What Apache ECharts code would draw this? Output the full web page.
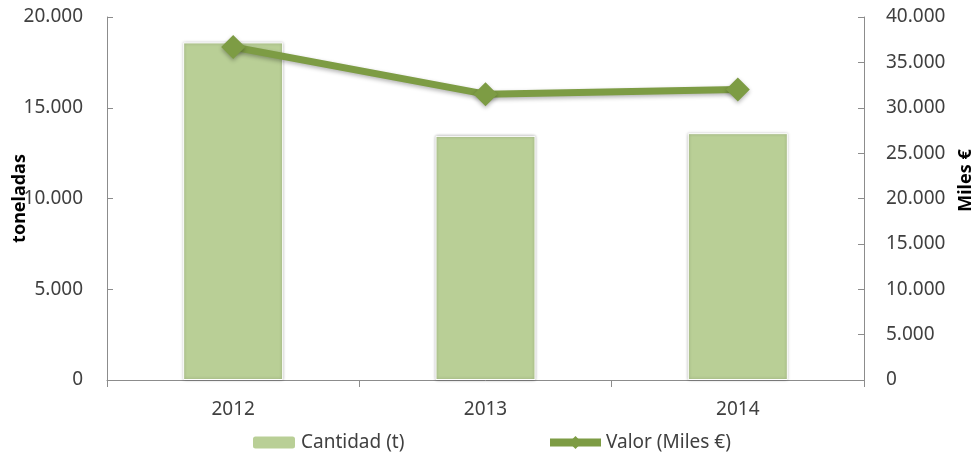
<!DOCTYPE html>
<html>
<head>
<meta charset="utf-8">
<script src="https://cdn.jsdelivr.net/npm/echarts@6/dist/echarts.min.js"></script>
<style>
  html, body { margin: 0; padding: 0; background: #fff; }
  #main { width: 973px; height: 459px; }
</style>
</head>
<body>
<div id="main"></div>
<script>
// datos
var years = ['2012', '2013', '2014']
var cantidad = [18600, 13450, 13600] // toneladas
var valor = [36700, 31500, 32000] // miles de euros

var leftMax = 20000
var leftStep = 5000
var rightMax = 40000
var rightStep = 5000

var fontName = '"Noto Sans", "Open Sans", sans-serif'
var barColor = '#b9cf96'
var lineColor = '#7d9c44'
var axisColor = '#8c8c8c'
var textColor = '#404040'

// 18600 -> 18.600
function fmt(v) {
  return String(v).replace(/\B(?=(\d{3})+(?!\d))/g, '.')
}

var chart = echarts.init(document.getElementById('main'))

var option = {
  animation: false,
  textStyle: { fontFamily: fontName },
  grid: {
    left: 107,
    right: 109,
    top: 17,
    bottom: 79,
    containLabel: false,
    outerBoundsMode: 'none'
  },
  legend: [
    {
      data: ['Cantidad (t)'],
      left: 246,
      top: 428,
      itemWidth: 44,
      itemHeight: 14,
      itemGap: 4,
      textStyle: { fontSize: 19, color: textColor, fontFamily: fontName }
    },
    {
      data: ['Valor (Miles €)'],
      left: 541,
      top: 428,
      itemWidth: 51,
      itemHeight: 16,
      itemGap: 4,
      lineStyle: { width: 8 },
      textStyle: { fontSize: 19, color: textColor, fontFamily: fontName }
    }
  ],
  xAxis: [
    {
      type: 'category',
      data: years,
      axisLine: { lineStyle: { color: axisColor, width: 1 } },
      axisTick: { show: true, length: 7, lineStyle: { color: axisColor } },
      axisLabel: { color: textColor, fontSize: 19, margin: 20 },
      splitLine: { show: false }
    }
  ],
  yAxis: [
    {
      type: 'value',
      min: 0,
      max: leftMax,
      interval: leftStep,
      name: 'toneladas',
      nameLocation: 'middle',
      nameRotate: 90,
      nameGap: 78,
      nameMoveOverlap: false,
      nameTextStyle: { fontSize: 18, fontWeight: 'bold', color: '#000' },
      axisLine: { show: true, lineStyle: { color: axisColor } },
      axisTick: { show: true, inside: true, length: 6, lineStyle: { color: axisColor } },
      axisLabel: { color: textColor, fontSize: 19, margin: 24, formatter: fmt },
      splitLine: { show: false }
    },
    {
      type: 'value',
      min: 0,
      max: rightMax,
      interval: rightStep,
      name: 'Miles €',
      nameLocation: 'middle',
      nameRotate: 90,
      nameGap: 93,
      nameMoveOverlap: false,
      nameTextStyle: {
        fontSize: 18,
        fontWeight: 'bold',
        color: '#000',
        padding: [0, 0, 0, 36]
      },
      axisLine: { show: true, lineStyle: { color: axisColor } },
      axisTick: { show: true, inside: true, length: 6, lineStyle: { color: axisColor } },
      axisLabel: { color: textColor, fontSize: 19, margin: 22, formatter: fmt },
      splitLine: { show: false }
    }
  ],
  series: [
    {
      name: 'Cantidad (t)',
      type: 'bar',
      yAxisIndex: 0,
      barWidth: 100,
      data: cantidad,
      itemStyle: {
        color: barColor,
        borderColor: '#ffffff',
        borderWidth: 1,
        shadowBlur: 3,
        shadowColor: 'rgba(0, 0, 0, 0.3)'
      }
    },
    {
      name: 'Valor (Miles €)',
      type: 'line',
      yAxisIndex: 1,
      data: valor,
      symbol: 'diamond',
      symbolSize: 24,
      lineStyle: {
        color: lineColor,
        width: 7,
        shadowBlur: 4,
        shadowOffsetY: 2,
        shadowColor: 'rgba(0, 0, 0, 0.3)'
      },
      itemStyle: {
        color: lineColor,
        shadowBlur: 4,
        shadowOffsetY: 2,
        shadowColor: 'rgba(0, 0, 0, 0.3)'
      }
    }
  ]
}

chart.setOption(option, true)
</script>
</body>
</html>
